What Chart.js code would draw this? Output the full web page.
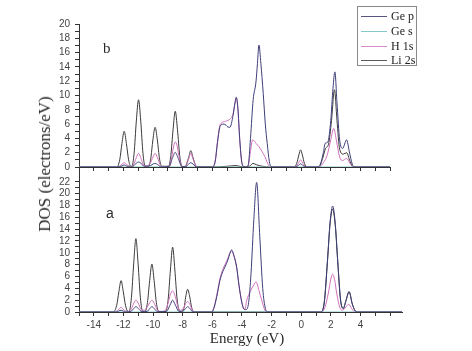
<!DOCTYPE html>
<html>
<head>
<meta charset="utf-8">
<script src="https://cdn.jsdelivr.net/npm/chart.js@4.4.1/dist/chart.umd.min.js"></script>
<style>
  body { margin: 0; background: #fff; width: 472px; height: 351px; overflow: hidden; position: relative; }
  canvas { position: absolute; left: 0; }
  #topChart { top: 0; }
  #botChart { top: 150px; }
  .txt { position: absolute; color: #2a2a2a; font-family: "Liberation Serif", serif; white-space: nowrap; }
  #legend { position: absolute; left: 357px; top: 6px; width: 60px; height: 60px; border: 1px solid #8a8a8a; box-sizing: border-box; }
  .row { position: absolute; left: 3px; height: 14px; }
  .row span.ln { position: absolute; left: 0; top: 7px; width: 26px; border-top: 1px solid; }
  .row span.tx { position: absolute; left: 30px; top: 0; font: 12px "Liberation Serif", serif; color: #222; white-space: nowrap; }
</style>
</head>
<body>
<canvas id="topChart" width="472" height="180"></canvas>
<canvas id="botChart" width="472" height="201"></canvas>

<div class="txt" style="left:103px; top:40px; font-size:15px;">b</div>
<div class="txt" style="left:106px; top:205px; font-size:14px; font-family:'Liberation Sans', sans-serif;">a</div>
<div class="txt" style="left:45px; top:164px; font-size:17px; transform:translate(-50%,-50%) rotate(-90deg);">DOS (electrons/eV)</div>
<div class="txt" style="left:247px; top:338px; font-size:15px; transform:translate(-50%,-50%);">Energy (eV)</div>

<div id="legend"></div>

<script>
// =========================
//  DATA  ([energy eV, DOS] knots)
// =========================

const SERIES_NAMES = ["Ge p", "Ge s", "H 1s", "Li 2s"];
const SERIES_COLORS = ["#3e3e78", "#7cc4c4", "#d070bb", "#3a3a3a"];
const LEGEND_COLORS = ["#55557f", "#86c9c9", "#d98ac8", "#5a5a5a"];

const X_TICK_LABELS = [-14, -12, -10, -8, -6, -4, -2, 0, 2, 4];

// ---- panel b (top) ----
const TOP_GE_P = [
  [-15, 0], [-12.45, 0], [-12.1, 0.15], [-11.95, 0.3], [-11.8, 0.15], [-11.5, 0],
  [-11.28, 0.2], [-11.13, 0.55], [-10.98, 0.7], [-10.83, 0.55], [-10.6, 0.1],
  [-10.16, 0.2], [-9.98, 0.45], [-9.86, 0.5], [-9.7, 0.35], [-9.45, 0],
  [-8.9, 0.1], [-8.7, 1.2], [-8.5, 2.05], [-8.3, 1.2], [-8.05, 0.05],
  [-7.8, 0.05], [-7.6, 0.4], [-7.45, 0.6], [-7.3, 0.4], [-7.05, 0],
  [-6.0, 0], [-5.8, 0.8], [-5.65, 3.4], [-5.5, 5.5], [-5.4, 5.9], [-5.2, 6.0], [-4.95, 5.6],
  [-4.81, 5.55], [-4.6, 7.2], [-4.48, 8.8], [-4.38, 9.75], [-4.27, 8.2], [-4.15, 4.0], [-4.0, 0.6], [-3.85, 0.05],
  [-3.7, 0], [-3.57, 0.3], [-3.42, 4.0], [-3.24, 9.4], [-3.05, 11.9], [-2.95, 14.5], [-2.85, 17.06],
  [-2.72, 14.5], [-2.56, 10.3], [-2.42, 6.0], [-2.29, 3.3], [-2.15, 0.8], [-2.05, 0.1], [-1.9, 0],
  [-0.4, 0], [-0.2, 0.2], [-0.04, 0.45], [0.12, 0.2], [0.35, 0],
  [1.1, 0], [1.3, 0.4], [1.5, 2.0], [1.62, 3.3], [1.8, 3.5], [2.0, 6.5], [2.15, 11.0], [2.28, 13.3],
  [2.42, 9.0], [2.6, 3.8], [2.8, 2.6], [3.07, 3.8], [3.25, 2.2], [3.45, 0.4], [3.6, 0], [6, 0]
];
const TOP_GE_S = [[-15, 0], [6, 0]];
const TOP_H_1S = [
  [-15, 0], [-12.4, 0], [-12.15, 0.3], [-11.95, 0.6], [-11.75, 0.3], [-11.5, 0.05],
  [-11.3, 0.4], [-11.13, 1.3], [-10.98, 1.9], [-10.83, 1.3], [-10.65, 0.3], [-10.45, 0.1],
  [-10.2, 0.5], [-10.0, 1.4], [-9.86, 1.9], [-9.7, 1.3], [-9.5, 0.2], [-9.35, 0],
  [-8.9, 0.1], [-8.75, 1.3], [-8.6, 3.0], [-8.5, 3.5], [-8.38, 3.0], [-8.2, 1.0], [-8.0, 0.05],
  [-7.8, 0.05], [-7.6, 1.1], [-7.45, 1.9], [-7.3, 1.1], [-7.05, 0],
  [-6.0, 0], [-5.8, 0.9], [-5.65, 3.6], [-5.5, 5.7], [-5.35, 6.2], [-5.1, 6.4], [-4.81, 6.7],
  [-4.6, 7.4], [-4.48, 8.8], [-4.38, 9.7], [-4.27, 8.1], [-4.15, 3.9], [-4.0, 0.5], [-3.85, 0],
  [-3.7, 0], [-3.57, 0.2], [-3.42, 2.2], [-3.28, 3.8], [-3.15, 3.6], [-3.05, 3.3], [-2.85, 2.85],
  [-2.65, 2.2], [-2.45, 1.45], [-2.3, 0.7], [-2.15, 0.1], [-2.0, 0],
  [-0.4, 0], [-0.2, 0.5], [-0.04, 1.0], [0.12, 0.5], [0.35, 0],
  [1.2, 0], [1.5, 0.6], [1.75, 1.6], [2.0, 3.8], [2.2, 5.4], [2.4, 3.5], [2.6, 1.4], [2.8, 0.9],
  [3.07, 1.2], [3.3, 0.5], [3.5, 0], [6, 0]
];
const TOP_LI_2S = [
  [-15, 0], [-12.45, 0], [-12.25, 1.0], [-12.1, 3.3], [-11.95, 5.0], [-11.8, 3.3], [-11.65, 1.0], [-11.5, 0.1],
  [-11.43, 0.1], [-11.28, 1.9], [-11.13, 6.4], [-10.98, 9.4], [-10.83, 6.4], [-10.68, 1.9], [-10.53, 0.1],
  [-10.31, 0.1], [-10.16, 1.1], [-10.01, 3.8], [-9.86, 5.55], [-9.71, 3.8], [-9.56, 1.1], [-9.41, 0.1],
  [-8.95, 0.1], [-8.8, 1.6], [-8.65, 5.2], [-8.5, 7.8], [-8.35, 5.2], [-8.2, 1.6], [-8.05, 0.1],
  [-7.85, 0.05], [-7.6, 1.3], [-7.45, 2.3], [-7.3, 1.3], [-7.05, 0.05],
  [-6.0, 0], [-5.0, 0.1], [-4.4, 0.2], [-4.0, 0.05], [-3.5, 0.1], [-3.25, 0.5], [-3.0, 0.3], [-2.6, 0.1], [-2.1, 0],
  [-0.45, 0], [-0.3, 0.5], [-0.15, 1.7], [-0.04, 2.4], [0.08, 1.7], [0.22, 0.5], [0.4, 0],
  [1.2, 0], [1.45, 1.2], [1.65, 2.6], [1.85, 3.2], [2.05, 6.5], [2.25, 10.8], [2.42, 6.5], [2.6, 2.5],
  [2.85, 1.8], [3.07, 2.0], [3.3, 0.8], [3.5, 0], [6, 0]
];

// ---- panel a (bottom) ----
const BOT_GE_P = [
  [-15, 0], [-12.5, 0], [-12.16, 0.3], [-11.85, 0], [-11.5, 0.1], [-11.3, 0.6], [-11.16, 0.9], [-11.0, 0.6], [-10.75, 0.05],
  [-10.4, 0.1], [-10.22, 0.6], [-10.08, 0.9], [-9.93, 0.6], [-9.7, 0.05],
  [-9.1, 0.1], [-8.85, 1.2], [-8.68, 2.0], [-8.5, 1.2], [-8.25, 0.1],
  [-7.95, 0.2], [-7.8, 0.6], [-7.67, 0.9], [-7.52, 0.6], [-7.3, 0],
  [-6.05, 0], [-5.9, 0.6], [-5.7, 2.6], [-5.49, 5.3], [-5.3, 6.8], [-5.15, 7.6], [-4.95, 8.8], [-4.8, 10.0],
  [-4.7, 10.5], [-4.55, 9.6], [-4.36, 7.6], [-4.2, 4.5], [-4.02, 1.7], [-3.88, 0.5],
  [-3.75, 0.4], [-3.55, 1.6], [-3.39, 6.5], [-3.2, 15.6], [-3.01, 21.9], [-2.8, 12.8], [-2.6, 4.0], [-2.42, 0.6], [-2.25, 0],
  [1.3, 0], [1.55, 1.6], [1.77, 8.8], [1.95, 15.3], [2.12, 17.9], [2.3, 14.8], [2.46, 8.8], [2.65, 2.2],
  [2.84, 0.6], [3.02, 1.9], [3.23, 3.45], [3.44, 1.4], [3.64, 0.2], [3.8, 0], [6.8, 0]
];
const BOT_GE_S = [[-15, 0], [6.8, 0]];
const BOT_H_1S = [
  [-15, 0], [-12.6, 0], [-12.35, 0.35], [-12.16, 0.8], [-11.97, 0.35], [-11.7, 0.05],
  [-11.45, 0.6], [-11.3, 1.5], [-11.16, 2.0], [-11.0, 1.5], [-10.8, 0.4], [-10.6, 0.3],
  [-10.4, 0.8], [-10.22, 1.6], [-10.08, 2.0], [-9.93, 1.5], [-9.7, 0.3], [-9.5, 0.05],
  [-9.2, 0.2], [-9.0, 1.4], [-8.83, 3.0], [-8.68, 3.56], [-8.5, 2.6], [-8.3, 0.7], [-8.1, 0.3],
  [-7.9, 0.9], [-7.8, 1.45], [-7.67, 1.75], [-7.52, 1.3], [-7.35, 0.3], [-7.15, 0],
  [-6.05, 0], [-5.9, 0.7], [-5.7, 2.9], [-5.49, 5.6], [-5.3, 7.2], [-5.15, 8.0], [-4.95, 9.1], [-4.8, 10.1],
  [-4.7, 10.3], [-4.55, 9.5], [-4.36, 7.5], [-4.2, 4.4], [-4.02, 1.8], [-3.88, 0.6],
  [-3.8, 0.5], [-3.68, 2.0], [-3.45, 3.4], [-3.2, 4.6], [-3.05, 5.1], [-2.85, 3.6], [-2.67, 2.0], [-2.45, 0.3], [-2.3, 0],
  [1.35, 0], [1.6, 0.8], [1.83, 3.2], [2.0, 5.6], [2.12, 6.4], [2.25, 5.5], [2.39, 3.2], [2.6, 0.8],
  [2.78, 0.3], [3.0, 0.8], [3.2, 1.3], [3.4, 0.6], [3.6, 0], [6.8, 0]
];
const BOT_LI_2S = [
  [-15, 0], [-12.7, 0], [-12.46, 1.1], [-12.31, 3.4], [-12.16, 5.3], [-12.01, 3.4], [-11.86, 1.1], [-11.7, 0.1],
  [-11.62, 0.1], [-11.46, 2.5], [-11.31, 8.1], [-11.16, 12.4], [-11.01, 8.1], [-10.86, 2.5], [-10.7, 0.1],
  [-10.55, 0.1], [-10.38, 1.6], [-10.23, 5.3], [-10.08, 8.1], [-9.93, 5.3], [-9.78, 1.6], [-9.62, 0.1],
  [-9.15, 0.1], [-8.98, 2.2], [-8.83, 7.1], [-8.68, 10.96], [-8.53, 7.1], [-8.38, 2.2], [-8.2, 0.1],
  [-8.1, 0.05], [-7.9, 0.8], [-7.8, 2.5], [-7.67, 3.84], [-7.52, 2.5], [-7.4, 0.8], [-7.2, 0],
  [1.3, 0], [1.55, 1.5], [1.77, 8.5], [1.95, 15.0], [2.12, 17.4], [2.3, 14.5], [2.46, 8.5], [2.65, 2.0],
  [2.84, 0.6], [3.0, 1.8], [3.23, 3.4], [3.45, 1.3], [3.64, 0.2], [3.8, 0], [6.8, 0]
];

// =========================
//  HELPERS
// =========================

const AXIS_COLOR = "#333";
const TICK_FONT = { family: "Liberation Sans", size: 10 };

function toPoints(pairs) {
  return pairs.map(p => ({ x: p[0], y: p[1] }));
}

function makeDatasets(list) {
  return list.map((pairs, i) => ({
    label: SERIES_NAMES[i],
    data: toPoints(pairs),
    borderColor: SERIES_COLORS[i],
    borderWidth: 1,
    pointRadius: 0,
    fill: false,
    cubicInterpolationMode: "monotone"
  }));
}

function makePanel(canvasId, cfg) {
  return new Chart(document.getElementById(canvasId), {
    type: "line",
    data: { datasets: makeDatasets(cfg.series) },
    options: {
      responsive: false,
      animation: false,
      layout: { padding: cfg.padding },
      plugins: { legend: { display: false }, tooltip: { enabled: false } },
      scales: {
        x: {
          type: "linear",
          min: -15,
          max: cfg.xMax,
          grid: { drawOnChartArea: false, tickLength: 4, color: AXIS_COLOR },
          border: { color: AXIS_COLOR, width: 1 },
          ticks: {
            stepSize: 1,
            autoSkip: false,
            maxRotation: 0,
            includeBounds: false,
            padding: 3,
            color: "#444",
            font: TICK_FONT,
            callback: v => (cfg.xLabels && X_TICK_LABELS.includes(v)) ? String(v) : ""
          },
          afterFit: s => { s.height = cfg.xHeight; }
        },
        y: {
          min: 0,
          max: cfg.yMax,
          grid: { drawOnChartArea: false, tickLength: 4, color: AXIS_COLOR },
          border: { color: AXIS_COLOR, width: 1 },
          ticks: {
            stepSize: 1,
            autoSkip: false,
            includeBounds: false,
            padding: 5,
            color: "#444",
            font: TICK_FONT,
            callback: v => (v % 2 === 0 ? String(v) : "")
          },
          afterBuildTicks: s => { s.ticks = s.ticks.filter(t => t.value <= cfg.yTop); },
          afterFit: s => { s.width = 79; }
        }
      }
    }
  });
}

// =========================
//  PANELS
// =========================

makePanel("topChart", {
  series: [TOP_GE_P, TOP_GE_S, TOP_H_1S, TOP_LI_2S],
  padding: { left: 0, top: 24, right: 82, bottom: 0 },
  xMax: 6, xHeight: 13, xLabels: false,
  yMax: 20, yTop: 20
});

makePanel("botChart", {
  series: [BOT_GE_P, BOT_GE_S, BOT_H_1S, BOT_LI_2S],
  padding: { left: 0, top: 17, right: 70, bottom: 0 },
  xMax: 6.8, xHeight: 39, xLabels: true,
  yMax: 24.5, yTop: 22
});

// =========================
//  LEGEND
// =========================

const legendEl = document.getElementById("legend");
const ROW_TOPS = [2, 17, 32, 46];
SERIES_NAMES.forEach((name, i) => {
  const row = document.createElement("div");
  row.className = "row";
  row.style.top = ROW_TOPS[i] + "px";
  row.innerHTML = `<span class="ln" style="border-color:${LEGEND_COLORS[i]}"></span><span class="tx">${name}</span>`;
  legendEl.appendChild(row);
});
</script>
</body>
</html>
